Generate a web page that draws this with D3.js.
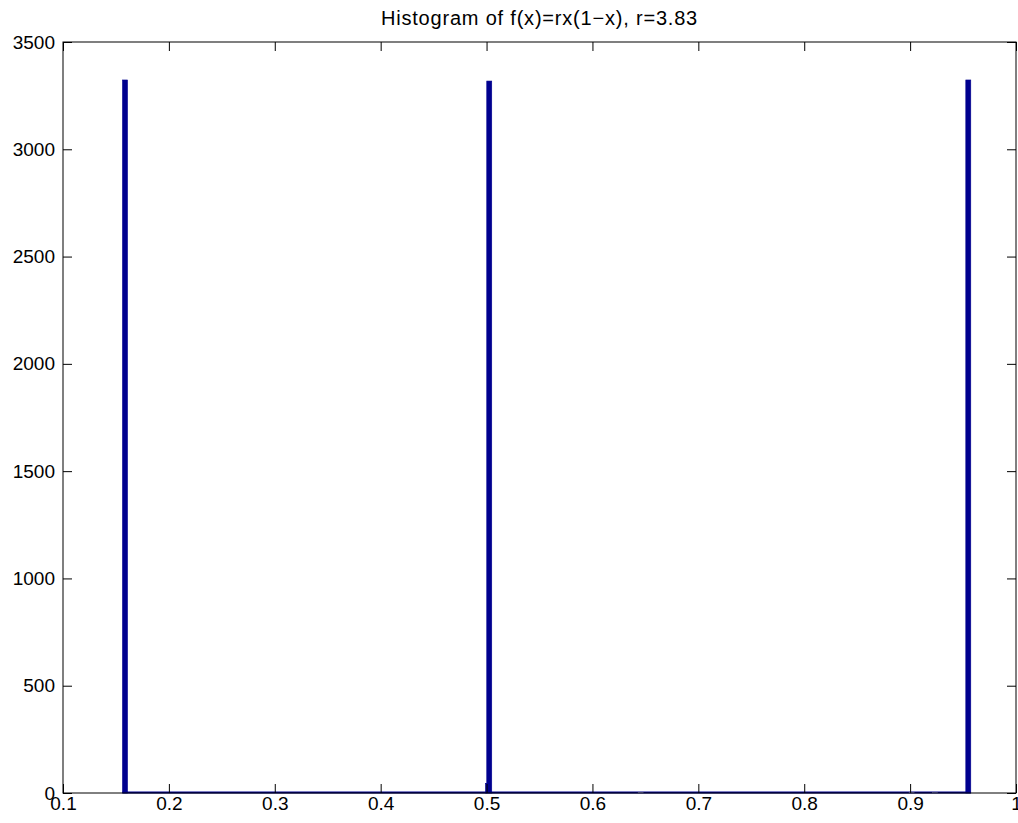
<!DOCTYPE html>
<html>
<head>
<meta charset="utf-8">
<script src="https://cdn.jsdelivr.net/npm/d3@7"></script>
<style>
  body { margin: 0; background: #fff; }
  svg text { font-family: "Liberation Sans", Arial, sans-serif; fill: #000; }
</style>
</head>
<body>
<svg id="chart"></svg>
<script>
// histogram bins that hold data (left edge, right edge, count)
const binLeft = [0.1562, 0.4990, 0.5002, 0.6432, 0.8991, 0.9210, 0.9526];
const binRight = [0.1609, 0.5002, 0.5049, 0.6479, 0.9038, 0.9257, 0.9573];
const binCount = [3323, 45, 3318, 3, 3, 4, 3323];
// full range covered by the histogram bins (zero-count bins lie flat on the axis)
const histRange = [0.1562, 0.9573];

const xTicks = [0.1, 0.2, 0.3, 0.4, 0.5, 0.6, 0.7, 0.8, 0.9, 1];
const yTicks = [0, 500, 1000, 1500, 2000, 2500, 3000, 3500];
const title = 'Histogram of f(x)=rx(1\u2212x), r=3.83';

const svgWidth = 1018;
const svgHeight = 823;
const margin = { top: 42, right: 2, bottom: 30, left: 63 };
const width = svgWidth - margin.left - margin.right;
const height = svgHeight - margin.top - margin.bottom;
const barColor = '#00008f';
const tickLen = 9;

const svg = d3.select('#chart')
    .attr('width', svgWidth)
    .attr('height', svgHeight);

const g = svg.append('g')
    .attr('transform', `translate(${margin.left}, ${margin.top})`);

const xScale = d3.scaleLinear().domain([0.1, 1]).range([0, width]);
const yScale = d3.scaleLinear().domain([0, 3500]).range([height, 0]);

// zero-count bins along the baseline
g.append('line')
    .attr('x1', xScale(histRange[0]))
    .attr('x2', xScale(histRange[1]))
    .attr('y1', yScale(0) - 0.5)
    .attr('y2', yScale(0) - 0.5)
    .attr('stroke', barColor)
    .attr('stroke-width', 2);

// bars
g.selectAll('.bar')
    .data(binCount)
    .enter()
    .append('rect')
    .attr('class', 'bar')
    .attr('x', (d, i) => xScale(binLeft[i]))
    .attr('y', d => yScale(d))
    .attr('width', (d, i) => xScale(binRight[i]) - xScale(binLeft[i]))
    .attr('height', d => height - yScale(d))
    .attr('fill', barColor)
    .attr('stroke', d => d < 10 ? '#8c8ccf' : barColor)
    .attr('stroke-width', 0.6);

// axes: ticks inward, mirrored on the opposite sides
const fmtX = d => d === 1 ? '1' : d3.format('.1f')(d);

g.append('g')
    .attr('transform', `translate(0, ${height})`)
    .call(d3.axisBottom(xScale).tickValues(xTicks).tickFormat(fmtX).tickSizeInner(-tickLen).tickSizeOuter(0).tickPadding(3))
    .call(a => a.select('.domain').remove());

g.append('g')
    .call(d3.axisTop(xScale).tickValues(xTicks).tickFormat('').tickSizeInner(-tickLen).tickSizeOuter(0))
    .call(a => a.select('.domain').remove());

g.append('g')
    .call(d3.axisLeft(yScale).tickValues(yTicks).tickFormat(d3.format('d')).tickSizeInner(-tickLen).tickSizeOuter(0).tickPadding(8))
    .call(a => a.select('.domain').remove());

g.append('g')
    .attr('transform', `translate(${width}, 0)`)
    .call(d3.axisRight(yScale).tickValues(yTicks).tickFormat('').tickSizeInner(-tickLen).tickSizeOuter(0))
    .call(a => a.select('.domain').remove());

g.selectAll('.tick line').attr('stroke', '#000');
g.selectAll('.tick text').style('font-size', '19px').attr('font-family', null);

// frame
g.append('rect')
    .attr('x', 0)
    .attr('y', 0)
    .attr('width', width)
    .attr('height', height)
    .attr('fill', 'none')
    .attr('stroke', '#000')
    .attr('stroke-width', 1);

// title
svg.append('text')
    .attr('x', margin.left + width / 2)
    .attr('y', 25)
    .attr('text-anchor', 'middle')
    .style('font-size', '20px')
    .style('letter-spacing', '0.8px')
    .text(title);
</script>
</body>
</html>
